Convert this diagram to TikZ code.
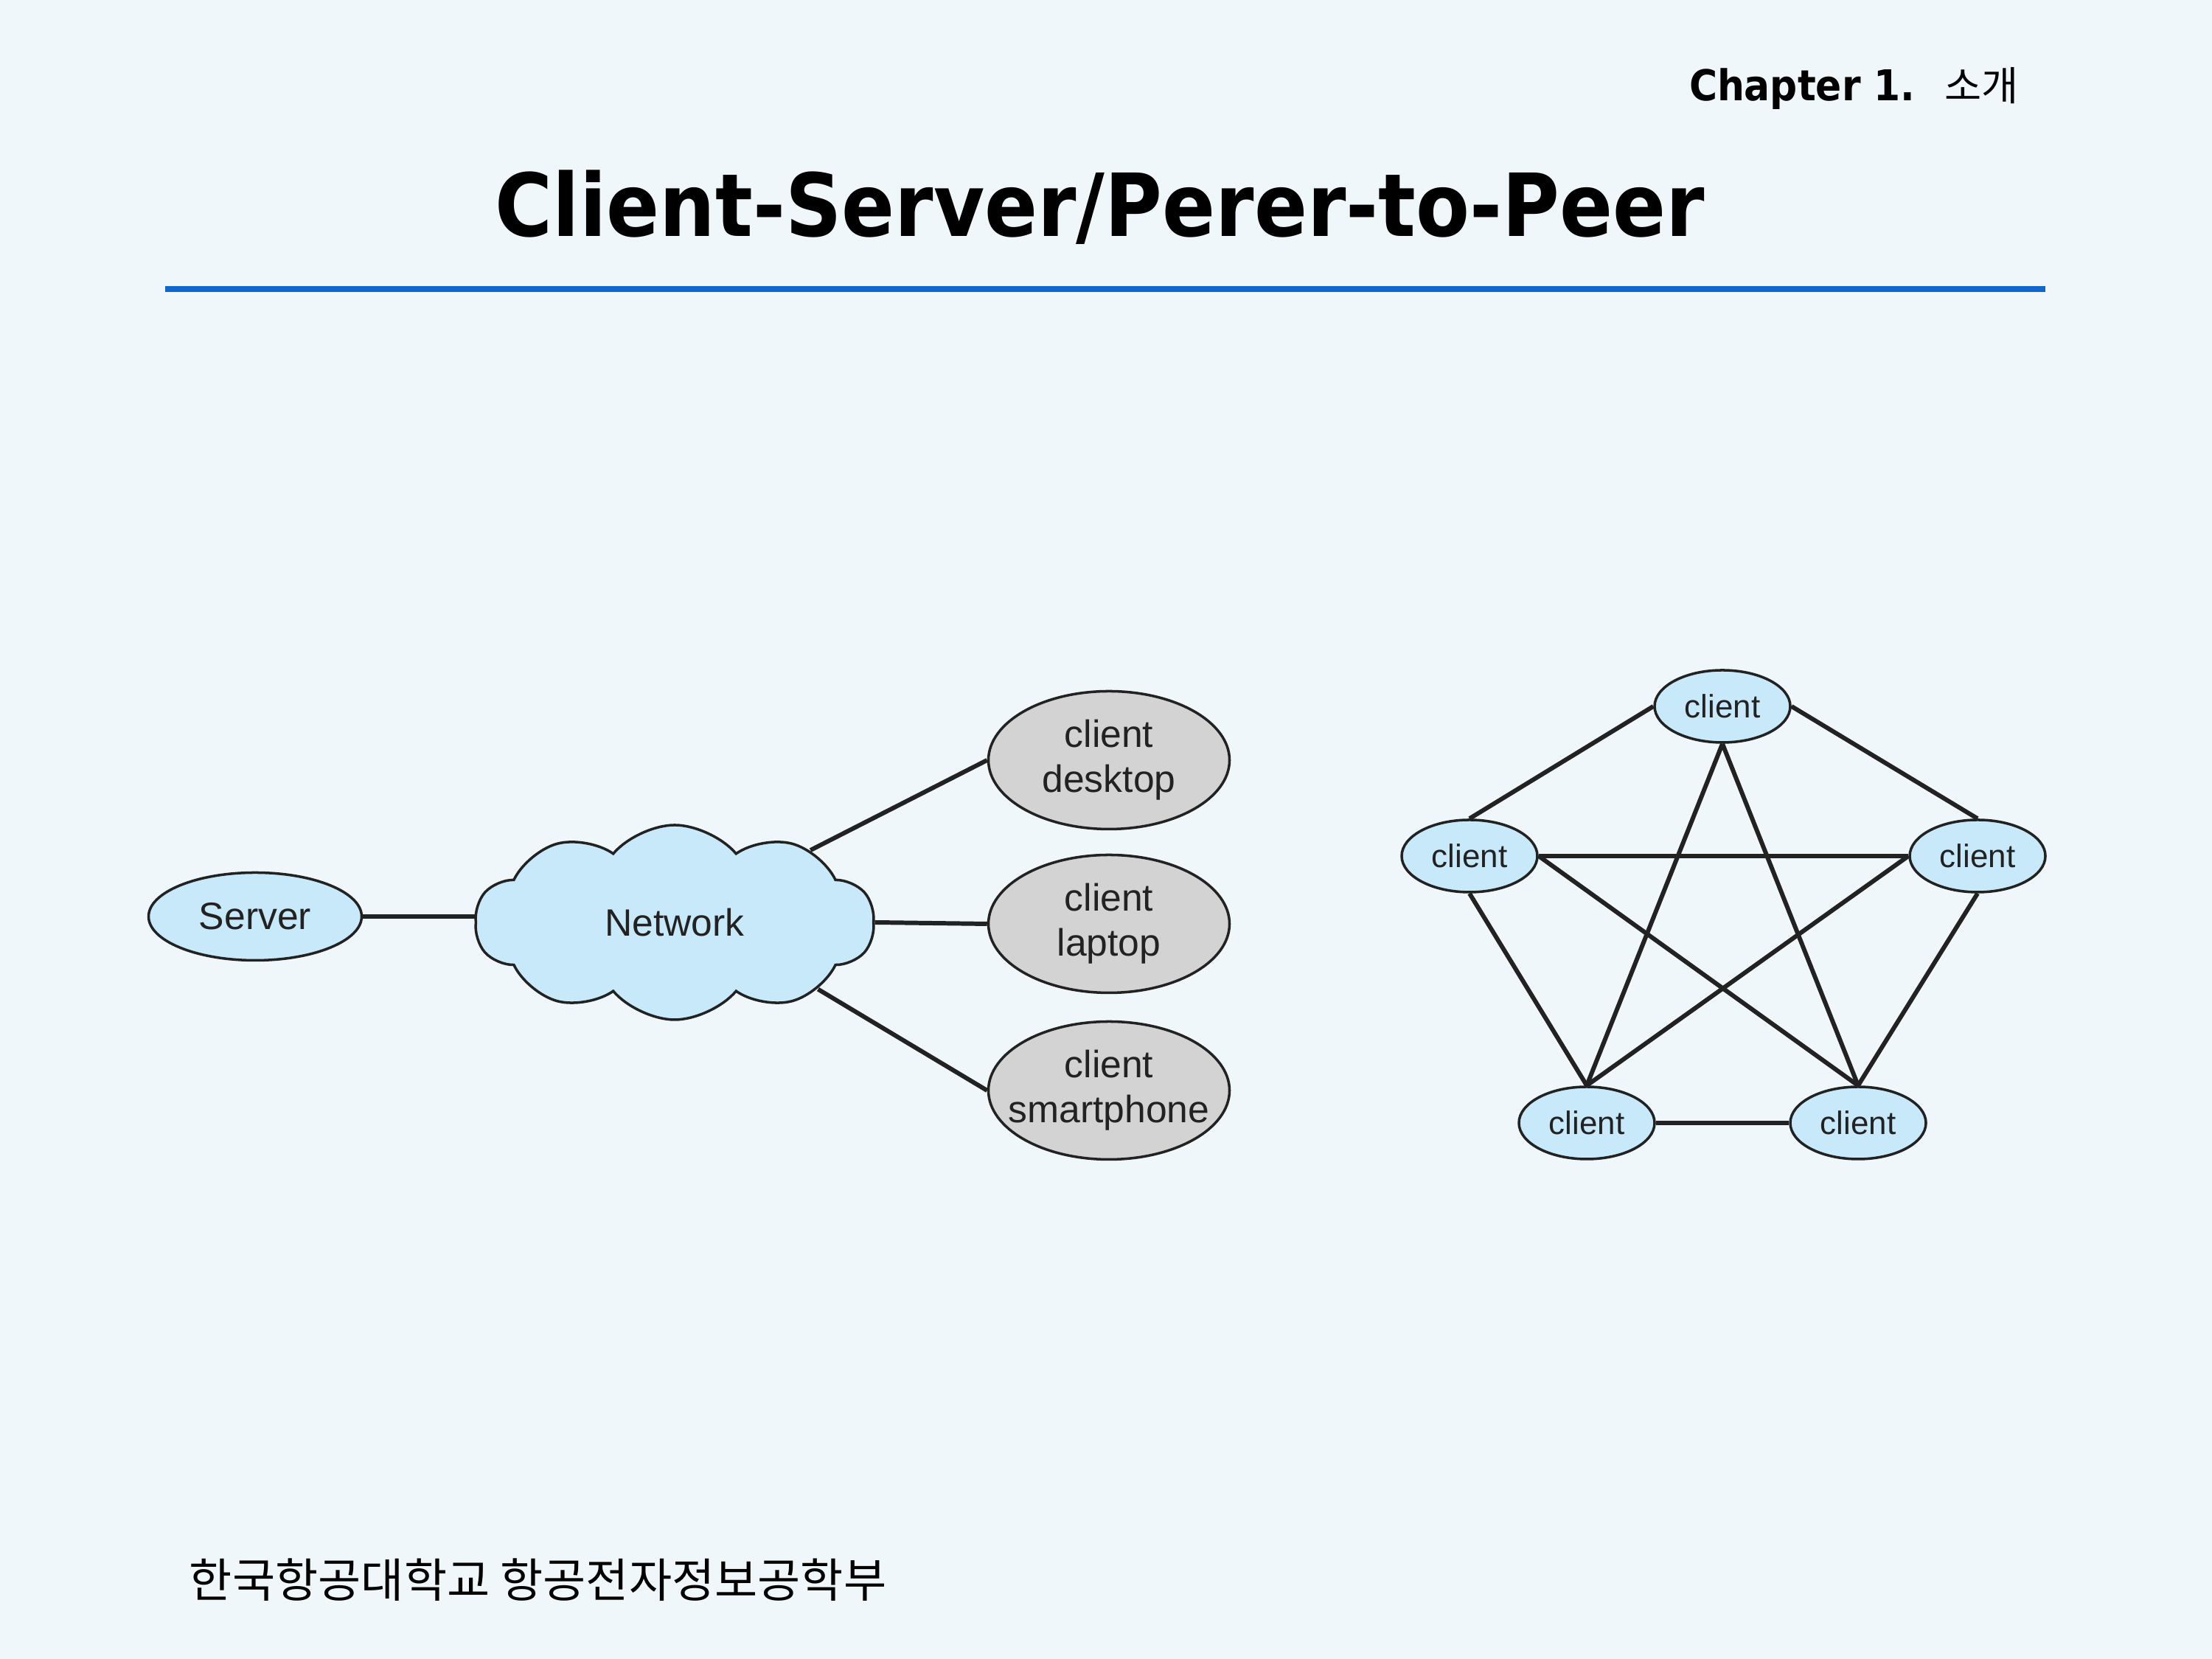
\documentclass[tikz,border=0pt]{standalone}
\usepackage{fontspec}
\usepackage{xcolor}
\setmainfont{Liberation Sans}
\newfontfamily\cjkfont{Noto Sans CJK KR}
\IfFontExistsTF{DejaVu Sans Condensed}
	{\newfontfamily\headfont{DejaVu Sans Condensed}
	 \newcommand\titlesize{\fontsize{33.6}{40}\selectfont}
	 \newcommand\chapsize{\fontsize{16.4}{19}\selectfont}}
	{\newfontfamily\headfont{DejaVu Sans}
	 \newcommand\titlesize{\fontsize{30.3}{36}\selectfont}
	 \newcommand\chapsize{\fontsize{14.8}{17}\selectfont}}
\usepackage{tikz}
\usetikzlibrary{shapes,positioning,calc}
\definecolor{bgcol}{RGB}{239,247,250}
\definecolor{rulecol}{RGB}{17,102,204}
\definecolor{nodeblue}{RGB}{199,233,249}
\definecolor{nodegray}{RGB}{211,211,211}
\definecolor{inkcol}{RGB}{34,34,34}

\begin{document}
\begin{tikzpicture}[line width=1.7pt]
	\tikzstyle{every node}=[text=inkcol]
	\tikzstyle{link}=[draw=inkcol, line width=1.7pt]
	\tikzstyle{srvnode}=[ellipse, draw=inkcol, line width=1pt, fill=nodeblue, inner sep=0pt,
		minimum width=2.89cm, minimum height=1.19cm, font=\fontsize{14.7}{17.4}\selectfont]
	\tikzstyle{devnode}=[ellipse, draw=inkcol, line width=1pt, fill=nodegray, inner ysep=0pt, inner xsep=-0.22cm,
		minimum width=3.27cm, minimum height=1.87cm, align=center, font=\fontsize{14.7}{17.4}\selectfont]
	\tikzstyle{peernode}=[ellipse, draw=inkcol, line width=1pt, fill=nodeblue, inner sep=0pt,
		minimum width=1.84cm, minimum height=0.98cm, font=\fontsize{12.5}{15}\selectfont]
	\tikzstyle{netcloud}=[cloud, cloud puffs=10, cloud puff arc=100, cloud ignores aspect,
		draw=inkcol, line width=1pt, fill=nodeblue, inner sep=0pt,
		minimum width=5.41cm, minimum height=2.64cm, font=\fontsize{14.7}{17.4}\selectfont]

	% page
	\fill[bgcol] (0,0) rectangle (30,22.5);
	\useasboundingbox (0,0) rectangle (30,22.5);

	% header and footer
	\node[anchor=base east, font=\headfont\bfseries\chapsize, text=black, inner sep=0pt](chap) at (27.41,21.13)
		{Chapter 1.\hspace{0.7em}{\cjkfont\mdseries\fontsize{15.5}{18}\selectfont 소개}};
	\node[anchor=base, font=\headfont\bfseries\titlesize, text=black](title) at (14.92,19.29)
		{Client-Server/Perer-to-Peer};
	\draw[rulecol, line width=2.3pt] (2.24,18.58) -- (27.74,18.58);
	\node[anchor=west, font=\cjkfont\fontsize{18}{21}\selectfont, text=black, inner sep=0pt](foot) at (2.54,1.07)
		{한국항공대학교 항공전자정보공학부};

	% client-server
	\node[srvnode](srv) at (3.46,10.07){Server};
	\node[netcloud](net) at (9.15,9.99){Network};
	\node[devnode](desk) at (15.04,12.19){client\\desktop};
	\node[devnode](lap) at (15.04,9.97){client\\laptop};
	\node[devnode](phone) at (15.04,7.71){client\\smartphone};

	\path[link] (srv.east) -- (srv.east -| net.west);
	\path[link] (net.28) -- (desk.west);
	\path[link] (net.east) -- (lap.west);
	\path[link] (net.-25) -- (phone.west);

	% peer-to-peer
	\node[peernode](pTop) at (23.36,12.92){client};
	\node[peernode](pLeft) at (19.93,10.89){client};
	\node[peernode](pRight) at (26.82,10.89){client};
	\node[peernode](pBotL) at (21.52,7.27){client};
	\node[peernode](pBotR) at (25.20,7.27){client};

	\path[link] (pTop.west) -- (pLeft.north);
	\path[link] (pTop.east) -- (pRight.north);
	\path[link] (pTop.south) -- (pBotL.north);
	\path[link] (pTop.south) -- (pBotR.north);
	\path[link] (pLeft.east) -- (pRight.west);
	\path[link] (pLeft.south) -- (pBotL.north);
	\path[link] (pLeft.east) -- (pBotR.north);
	\path[link] (pRight.west) -- (pBotL.north);
	\path[link] (pRight.south) -- (pBotR.north);
	\path[link] (pBotL.east) -- (pBotR.west);
\end{tikzpicture}
\end{document}
